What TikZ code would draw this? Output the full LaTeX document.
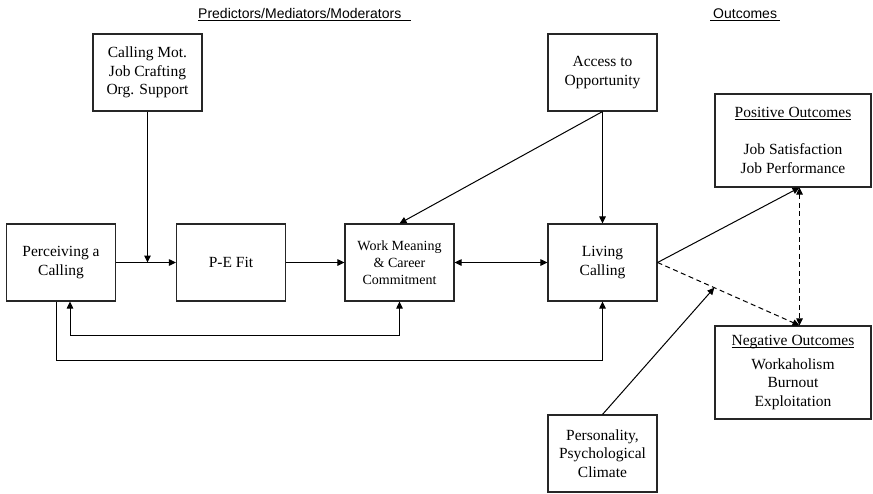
\documentclass[tikz,border=0pt]{standalone}
\usepackage{fontspec}
\setmainfont{Liberation Serif}
\newfontfamily\hdrfont{Liberation Sans}
\usetikzlibrary{arrows.meta,calc}

% underline at a fixed distance below the baseline
\newsavebox\ulsave
\newcommand\ulword[1]{\sbox\ulsave{#1}\rlap{\rule[-1.8pt]{\wd\ulsave}{0.7pt}}\usebox\ulsave}

\tikzset{
  box/.style={draw=black!85, line width=1.1pt, rectangle, minimum width=109pt,
    minimum height=77pt, align=center, inner sep=0pt,
    font=\fontsize{15.5}{18.5}\selectfont},
  outbox/.style={box, minimum width=156pt, minimum height=93pt},
  conn/.style={line width=1pt, -{Triangle[length=7pt,width=6.5pt]}},
  conn2/.style={line width=1pt, {Triangle[length=7pt,width=6.5pt]}-{Triangle[length=7pt,width=6.5pt]}},
  dashconn/.style={dash pattern=on 5pt off 3.5pt},
  hdr/.style={font=\hdrfont\fontsize{14}{17}\selectfont, inner sep=0pt, anchor=base west},
}

\begin{document}
\begin{tikzpicture}[x=1pt,y=-1pt]
\useasboundingbox (0,0) rectangle (873,493);

% column headings
\node[hdr] (h1) at (198,18) {Predictors/Mediators/Moderators};
\node[hdr] (h2) at (713,18) {Outcomes};
\draw[line width=0.8pt] (h1.base west) ++(0,2.5) -- ++(213,0);
\draw[line width=0.8pt] (h2.base west) ++(-3,2.5) -- ++(70,0);

% boxes
\node[box] (cm) at (147.5,72.5) {Calling Mot.\\Job Crafting\\Org. Support};
\node[box] (ao) at (602.5,72.5) {Access to\\Opportunity};
\node[box] (pc) at (61,262.5) {Perceiving a\\Calling};
\node[box] (pe) at (231,262.5) {P-E Fit};
\node[box, font=\fontsize{14}{17}\selectfont] (wm) at (399.5,262.5) {Work Meaning\\\& Career\\Commitment};
\node[box] (lc) at (602.5,262.5) {Living\\Calling};
\node[box] (ps) at (602.5,453.5) {Personality,\\Psychological\\Climate};
\node[outbox] (pos) at (793,140.5) {\ulword{Positive Outcomes}\\[18.5pt]Job Satisfaction\\Job Performance};
\node[outbox] (neg) at (793,372.5) {\ulword{Negative Outcomes}\\[5.5pt]Workaholism\\Burnout\\Exploitation};

% attachment points on the outcome boxes
\coordinate (pin) at ($(pos.south)+(6.5,0)$);
\coordinate (nin) at ($(neg.north)+(6.5,0)$);

% connectors
\draw[conn] (cm.south) -- (cm.south |- pc.east);
\draw[conn] (pc.east) -- (pe.west);
\draw[conn] (pe.east) -- (wm.west);
\draw[conn2] (wm.east) -- (lc.west);
\draw[conn2] ([xshift=9pt]pc.south) -- ++(0,34) -| (wm.south);
\draw[conn] ([xshift=-5pt]pc.south) -- ++(0,59) -| (lc.south);
\draw[conn] (ao.south) -- (lc.north);
\draw[conn] (ao.south) -- (wm.north);
\draw[conn] (lc.east) -- (pin);
\draw[conn, dashconn] (lc.east) -- (nin);
\draw[conn2, dashconn] (pin) -- (nin);
\coordinate (mod) at ($(lc.east)!0.4!(nin)$);
\draw[conn] (ps.north) -- (mod);
\end{tikzpicture}
\end{document}
